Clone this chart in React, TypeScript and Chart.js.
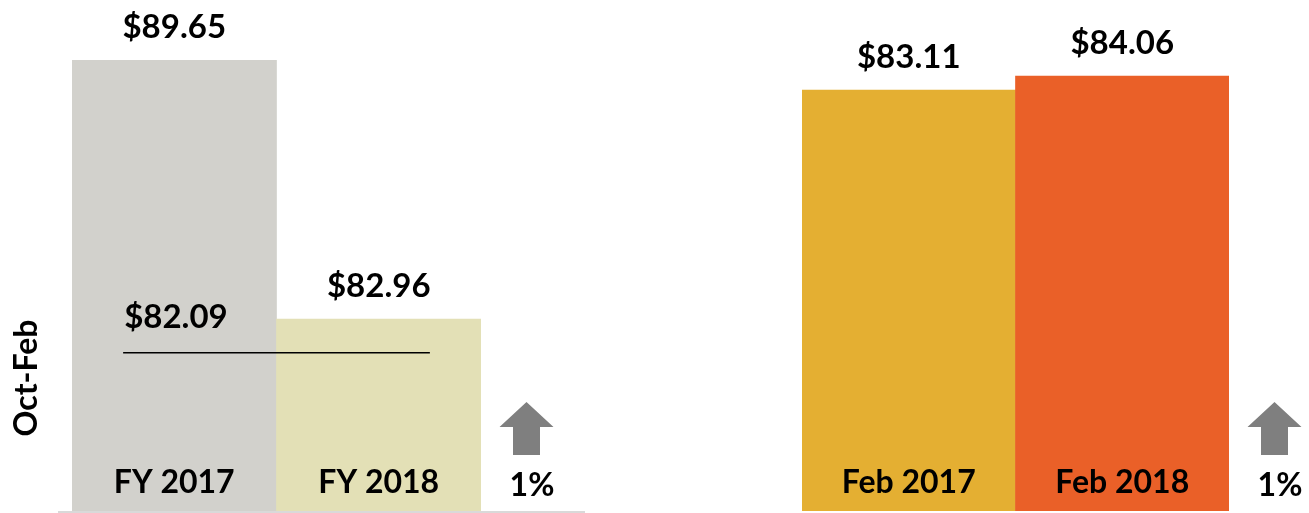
import React, { useEffect, useRef } from "react";
import { Chart, registerables } from "chart.js";

Chart.register(...registerables);

// ---- data ----
const fyLabels = ["FY 2017", "FY 2018"];
const fyValues = [89.65, 82.96];
const fyColors = ["#D2D1CC", "#E3E0B6"];
const fyReference = 82.09;
const fyChange = "1%";

const febLabels = ["Feb 2017", "Feb 2018"];
const febValues = [83.11, 84.06];
const febColors = ["#E4AF32", "#EA6028"];
const febChange = "1%";

const axisTitle = "Oct-Feb";

const FONT = "Lato, 'Open Sans', sans-serif";

type DecorOpts = {
  change: string;
  reference?: number;
  title?: string;
  baseline?: boolean;
};

function money(v: number) {
  return "$" + v.toFixed(2);
}

function makeDecor(opts: DecorOpts) {
  return {
    id: "decor",
    afterDatasetsDraw(chart: any) {
      const ctx = chart.ctx as CanvasRenderingContext2D;
      const area = chart.chartArea;
      const x = chart.scales.x;
      const y = chart.scales.y;
      const meta = chart.getDatasetMeta(0);
      const labels: string[] = chart.data.labels;
      const values: number[] = chart.data.datasets[0].data;
      ctx.save();
      ctx.fillStyle = "#000";
      ctx.textAlign = "center";
      ctx.textBaseline = "alphabetic";
      // value labels above bars
      ctx.font = `bold 33px ${FONT}`;
      meta.data.forEach((bar: any, i: number) => {
        ctx.fillText(money(values[i]), bar.x, bar.y - 22);
      });
      // category labels inside bars near bottom
      ctx.font = `bold 32px ${FONT}`;
      labels.forEach((lab, i) => {
        ctx.fillText(lab, x.getPixelForValue(i), area.bottom - 18);
      });
      // reference line
      if (opts.reference !== undefined) {
        const bw = x.getPixelForValue(1) - x.getPixelForValue(0);
        const x0 = x.getPixelForValue(0) - bw / 4;
        const x1 = x.getPixelForValue(1) + bw / 4;
        const yy = y.getPixelForValue(opts.reference);
        ctx.strokeStyle = "#000";
        ctx.lineWidth = 1.5;
        ctx.beginPath();
        ctx.moveTo(x0, yy);
        ctx.lineTo(x1, yy);
        ctx.stroke();
        ctx.textAlign = "left";
        ctx.font = `bold 33px ${FONT}`;
        ctx.fillText(money(opts.reference), x0 + 1, yy - 25);
      }
      // up arrow + change
      const cx = area.right + 45.5;
      const tip = area.bottom - 109;
      ctx.fillStyle = "#7F7F7F";
      ctx.beginPath();
      ctx.moveTo(cx, tip);
      ctx.lineTo(cx + 27, tip + 25);
      ctx.lineTo(cx + 13.5, tip + 25);
      ctx.lineTo(cx + 13.5, tip + 53);
      ctx.lineTo(cx - 13.5, tip + 53);
      ctx.lineTo(cx - 13.5, tip + 25);
      ctx.lineTo(cx - 27, tip + 25);
      ctx.closePath();
      ctx.fill();
      ctx.fillStyle = "#000";
      ctx.textAlign = "center";
      ctx.font = `bold 32px ${FONT}`;
      ctx.fillText(opts.change, area.right + 51, area.bottom - 15);
      // baseline
      if (opts.baseline) {
        ctx.strokeStyle = "#D9D9D9";
        ctx.lineWidth = 2;
        ctx.beginPath();
        ctx.moveTo(area.left - 14, area.bottom + 1);
        ctx.lineTo(area.right + 104, area.bottom + 1);
        ctx.stroke();
      }
      // axis title
      if (opts.title) {
        ctx.save();
        ctx.translate(27, 378);
        ctx.rotate(-Math.PI / 2);
        ctx.textAlign = "center";
        ctx.textBaseline = "middle";
        ctx.font = `bold 32px ${FONT}`;
        ctx.fillText(opts.title, 0, 0);
        ctx.restore();
      }
      ctx.restore();
    },
  };
}

function makeConfig(
  labels: string[],
  values: number[],
  colors: string[],
  min: number,
  max: number,
  padding: { left: number; right: number; top: number; bottom: number },
  decor: DecorOpts
): any {
  return {
    type: "bar",
    data: {
      labels,
      datasets: [
        {
          data: values,
          backgroundColor: colors,
          borderWidth: 0,
          categoryPercentage: 1,
          barPercentage: 1,
        },
      ],
    },
    options: {
      responsive: false,
      animation: false,
      layout: { padding },
      plugins: { legend: { display: false }, tooltip: { enabled: false } },
      scales: {
        x: { display: false },
        y: { display: false, min, max },
      },
    },
    plugins: [makeDecor(decor)],
  };
}

export default function App() {
  const leftRef = useRef<HTMLCanvasElement | null>(null);
  const rightRef = useRef<HTMLCanvasElement | null>(null);

  useEffect(() => {
    document.body.style.margin = "0";
    const left = new Chart(
      leftRef.current as HTMLCanvasElement,
      makeConfig(
        fyLabels,
        fyValues,
        fyColors,
        78,
        91,
        { left: 72, right: 174, top: 8, bottom: 2 },
        { change: fyChange, reference: fyReference, title: axisTitle, baseline: true }
      )
    );
    const right = new Chart(
      rightRef.current as HTMLCanvasElement,
      makeConfig(
        febLabels,
        febValues,
        febColors,
        55,
        88.6,
        { left: 147, right: 80, top: 8, bottom: 2 },
        { change: febChange }
      )
    );
    return () => {
      left.destroy();
      right.destroy();
    };
  }, []);

  return (
    <div
      style={{
        position: "fixed",
        left: 0,
        top: 0,
        width: 1309,
        height: 513,
        background: "#fff",
      }}
    >
      <canvas
        ref={leftRef}
        width={655}
        height={513}
        style={{ position: "absolute", left: 0, top: 0, width: 655, height: 513 }}
      />
      <canvas
        ref={rightRef}
        width={654}
        height={513}
        style={{ position: "absolute", left: 655, top: 0, width: 654, height: 513 }}
      />
    </div>
  );
}
